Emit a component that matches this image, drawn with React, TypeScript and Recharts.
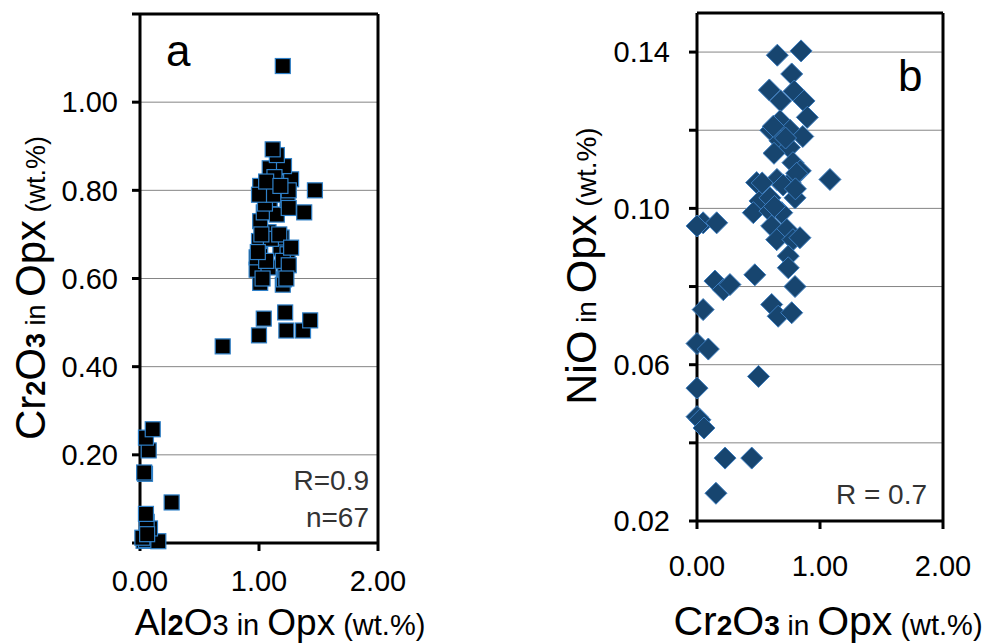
import { ScatterChart, Scatter, XAxis, YAxis, CartesianGrid, ReferenceLine } from "recharts";

// panel a: Al2O3 vs Cr2O3 in Opx (wt.%)
const al2o3A = [
  0.03, 0.05, 0.154, 0.084, 0.056, 0.05, 0.266, 0.042, 0.035, 0.073, 0.05, 0.107, 0.02, 0.06,
  0.695, 1.0, 1.04, 1.22, 1.23, 1.37, 1.43, 1.01, 1.2, 1.21, 0.98, 1.08, 1.22, 0.98, 1.01, 1.18,
  1.24, 1.0, 1.19, 1.08, 1.01, 1.04, 1.15, 1.38, 1.09, 1.24, 1.01, 1.22, 1.27, 1.47, 1.09, 1.21,
  1.15, 1.115, 1.2, 1.05, 1.12, 1.25, 1.06, 1.2, 1.1, 1.03, 1.25, 1.13, 1.25, 1.0, 1.17, 1.23,
  0.99, 1.06, 1.18, 1.27, 1.02,
];
const cr2o3A = [
  0.005, 0.007, 0.004, 0.033, 0.048, 0.066, 0.092, 0.157, 0.16, 0.21, 0.239, 0.258, 0.012, 0.02,
  0.446, 0.471, 0.509, 0.523, 0.482, 0.482, 0.505, 0.59, 0.586, 0.598, 0.62, 0.625, 0.62, 0.648,
  0.662, 0.668, 0.655, 0.685, 0.693, 0.705, 0.73, 0.75, 0.745, 0.75, 0.78, 0.778, 0.81, 0.818,
  0.825, 0.8, 0.85, 0.855, 0.88, 0.893, 1.082, 0.77, 0.79, 0.8, 0.64, 0.64, 0.69, 0.6, 0.63, 0.83,
  0.76, 0.79, 0.7, 0.6, 0.66, 0.82, 0.81, 0.67, 0.7,
];

// panel b: Cr2O3 vs NiO in Opx (wt.%)
const cr2o3B = [
  0.653, 0.846, 0.77, 0.588, 0.79, 0.68, 0.87, 0.897, 0.675, 0.6, 0.756, 0.86, 0.675, 0.75, 0.626,
  0.78, 0.84, 1.081, 0.485, 0.65, 0.756, 0.81, 0.512, 0.593, 0.797, 0.458, 0.593, 0.689, 0.607,
  0.73, 0.648, 0.78, 0.837, 0.742, 0.742, 0.05, 0.0, 0.16, 0.146, 0.214, 0.268, 0.47, 0.797, 0.05,
  0.607, 0.66, 0.77, 0.0, 0.092, 0.5, 0.0, 0.0, 0.024, 0.057, 0.228, 0.445, 0.154, 0.53, 0.7, 0.62,
  0.72, 0.63, 0.8,
];
const nioB = [
  0.1392, 0.1403, 0.1344, 0.1303, 0.13, 0.1275, 0.1275, 0.1233, 0.1224, 0.12, 0.12, 0.1184, 0.1173,
  0.1156, 0.1141, 0.1117, 0.1096, 0.1074, 0.1066, 0.1074, 0.1066, 0.109, 0.1019, 0.1027, 0.1027,
  0.0989, 0.0993, 0.0989, 0.0955, 0.0946, 0.092, 0.092, 0.0925, 0.0878, 0.0848, 0.0963, 0.0955,
  0.0963, 0.0814, 0.0792, 0.0805, 0.083, 0.08, 0.0741, 0.0754, 0.0724, 0.0733, 0.0654, 0.064, 0.057,
  0.054, 0.0467, 0.0459, 0.0438, 0.0361, 0.0361, 0.0271, 0.1065, 0.106, 0.121, 0.118, 0.1005, 0.105,
];

const xTicks = [0, 1, 2];
const yTicksA = [0, 0.2, 0.4, 0.6, 0.8, 1.0, 1.2];
const yTicksB = [0.02, 0.04, 0.06, 0.08, 0.1, 0.12, 0.14];

const dataA = al2o3A.map((x, i) => ({ x, y: cr2o3A[i] }));
const dataB = cr2o3B.map((x, i) => ({ x, y: nioB[i] }));

const FONT = "'Liberation Sans', Arial, sans-serif";
const tickStyle = { fill: "#000", fontSize: 29, fontFamily: FONT };
const axisStroke = { stroke: "#000", strokeWidth: 3 };

const Square = (props: any) => {
  const { cx, cy } = props;
  return <rect x={cx - 7.5} y={cy - 7.5} width={15} height={15} fill="#000" stroke="#2f80c8" strokeWidth={1.2} />;
};

const Diamond = (props: any) => {
  const { cx, cy } = props;
  const r = 11;
  return (
    <polygon
      points={`${cx},${cy - r} ${cx + r},${cy} ${cx},${cy + r} ${cx - r},${cy}`}
      fill="#17456f"
      stroke="#3c7dbf"
      strokeWidth={1}
    />
  );
};

const YTitleA = () => (
  <text transform="translate(45,288) rotate(-90)" textAnchor="middle" fontFamily={FONT} fill="#000">
    <tspan fontSize={42}>Cr</tspan>
    <tspan fontSize={27} fontWeight="bold">2</tspan>
    <tspan fontSize={42}>O</tspan>
    <tspan fontSize={27} fontWeight="bold">3</tspan>
    <tspan fontSize={27}> in </tspan>
    <tspan fontSize={42}>Opx</tspan>
    <tspan fontSize={27}> (wt.%)</tspan>
  </text>
);

const XTitleA = () => (
  <text x={280} y={635} textAnchor="middle" fontFamily={FONT} fill="#000">
    <tspan fontSize={37}>Al</tspan>
    <tspan fontSize={29} fontWeight="bold">2</tspan>
    <tspan fontSize={37}>O</tspan>
    <tspan fontSize={29}>3</tspan>
    <tspan fontSize={29}> in </tspan>
    <tspan fontSize={37}>Opx</tspan>
    <tspan fontSize={29}> (wt.%)</tspan>
  </text>
);

const YTitleB = () => (
  <text transform="translate(56,266) rotate(-90)" textAnchor="middle" fontFamily={FONT} fill="#000">
    <tspan fontSize={43}>NiO</tspan>
    <tspan fontSize={28}> in </tspan>
    <tspan fontSize={43}>Opx</tspan>
    <tspan fontSize={28}> (wt.%)</tspan>
  </text>
);

const XTitleB = () => (
  <text x={288} y={635} textAnchor="middle" fontFamily={FONT} fill="#000">
    <tspan fontSize={41}>Cr</tspan>
    <tspan fontSize={28} fontWeight="bold">2</tspan>
    <tspan fontSize={41}>O</tspan>
    <tspan fontSize={28} fontWeight="bold">3</tspan>
    <tspan fontSize={28}> in </tspan>
    <tspan fontSize={41}>Opx</tspan>
    <tspan fontSize={29}>{"  (wt.%)"}</tspan>
  </text>
);

const note = (left: number, top: number, size: number, color: string, align: "left" | "right", text: string) => (
  <div
    style={{
      position: "absolute",
      left: align === "right" ? left - 150 : left,
      top,
      width: align === "right" ? 150 : "auto",
      textAlign: align,
      fontFamily: FONT,
      fontSize: size,
      lineHeight: `${size}px`,
      color,
      whiteSpace: "nowrap",
    }}
  >
    {text}
  </div>
);

export default function App() {
  return (
    <div style={{ position: "absolute", left: 0, top: 0, width: 992, height: 644, background: "#fff" }}>
      <div style={{ position: "absolute", left: 0, top: 0 }}>
        <ScatterChart width={470} height={644} margin={{ top: 14, right: 92, bottom: 41, left: 0 }}>
          <CartesianGrid vertical={false} stroke="#858585" strokeWidth={1} />
          <XAxis
            type="number"
            dataKey="x"
            domain={[0, 2]}
            ticks={xTicks}
            interval={0}
            height={60}
            axisLine={axisStroke}
            tickLine={axisStroke}
            tickSize={8}
            tickMargin={19}
            tick={tickStyle}
            tickFormatter={(v: number) => v.toFixed(2)}
            label={() => <XTitleA />}
          />
          <YAxis
            type="number"
            dataKey="y"
            domain={[0, 1.2]}
            ticks={yTicksA}
            interval={0}
            width={140}
            axisLine={axisStroke}
            tickLine={axisStroke}
            tickSize={8}
            tickMargin={14}
            tick={tickStyle}
            tickFormatter={(v: number) => (v === 0 || v > 1.1 ? "" : v.toFixed(2))}
            label={() => <YTitleA />}
          />
          <ReferenceLine y={1.2} stroke="#000" strokeWidth={3} />
          <ReferenceLine x={2} stroke="#000" strokeWidth={3} />
          <Scatter data={dataA} shape={Square} isAnimationActive={false} />
        </ScatterChart>
      </div>
      <div style={{ position: "absolute", left: 540, top: 0 }}>
        <ScatterChart width={452} height={644} margin={{ top: 13, right: 49, bottom: 63, left: 0 }}>
          <CartesianGrid vertical={false} stroke="#858585" strokeWidth={1} />
          <XAxis
            type="number"
            dataKey="x"
            domain={[0, 2]}
            ticks={xTicks}
            interval={0}
            height={60}
            axisLine={axisStroke}
            tickLine={axisStroke}
            tickSize={8}
            tickMargin={26}
            tick={tickStyle}
            tickFormatter={(v: number) => v.toFixed(2)}
            label={() => <XTitleB />}
          />
          <YAxis
            type="number"
            dataKey="y"
            domain={[0.02, 0.15]}
            ticks={yTicksB}
            interval={0}
            allowDataOverflow
            width={157}
            axisLine={axisStroke}
            tickLine={axisStroke}
            tickSize={8}
            tickMargin={19}
            tick={tickStyle}
            tickFormatter={(v: number) => (Math.round(v * 100) % 4 === 2 ? v.toFixed(2) : "")}
            label={() => <YTitleB />}
          />
          <ReferenceLine y={0.15} stroke="#000" strokeWidth={3} />
          <ReferenceLine x={2} stroke="#000" strokeWidth={3} />
          <Scatter data={dataB} shape={Diamond} isAnimationActive={false} />
        </ScatterChart>
      </div>
      {note(166, 29, 44, "#000", "left", "a")}
      {note(898, 54, 44, "#000", "left", "b")}
      {note(369, 467, 28, "#333", "right", "R=0.9")}
      {note(369, 504, 28, "#333", "right", "n=67")}
      {note(927, 481, 28, "#333", "right", "R = 0.7")}
    </div>
  );
}
